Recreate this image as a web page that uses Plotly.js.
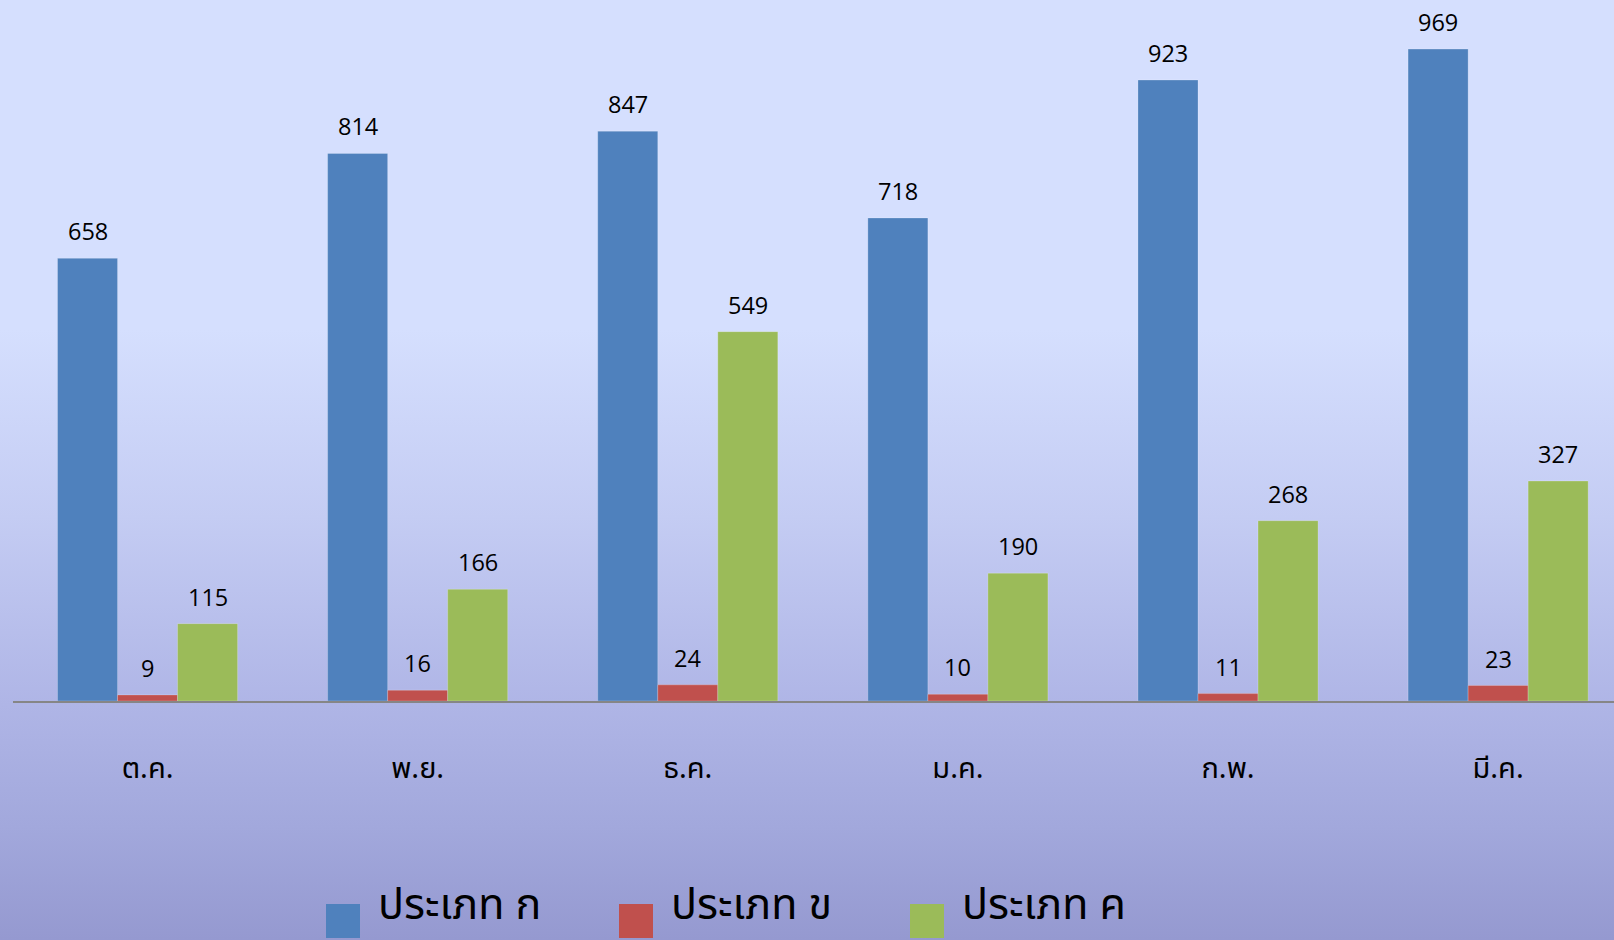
<!DOCTYPE html>
<html>
<head>
<meta charset="utf-8">
<script src="https://cdn.plot.ly/plotly-3.0.1.min.js"></script>
<style>
  html, body { margin: 0; padding: 0; width: 1614px; height: 940px; overflow: hidden; }
  body { background: linear-gradient(to bottom, #d5dffe 0%, #d5dffe 35%, #c4ccf3 55%, #afb5e6 75%, #a2a8dc 88%, #9599d0 100%); }
  #chart { width: 1614px; height: 940px; }
</style>
</head>
<body>
<div id="chart"></div>
<script>
const categories = ['ต.ค.', 'พ.ย.', 'ธ.ค.', 'ม.ค.', 'ก.พ.', 'มี.ค.'];
const seriesNames = ['ประเภท ก', 'ประเภท ข', 'ประเภท ค'];
const typeA = [658, 814, 847, 718, 923, 969];
const typeB = [9, 16, 24, 10, 11, 23];
const typeC = [115, 166, 549, 190, 268, 327];
const seriesValues = [typeA, typeB, typeC];
const seriesColors = ['#4f81bd', '#c0504d', '#9bbb59'];

const W = 1614, H = 940;
const numFont = "'Open Sans', 'Noto Sans', sans-serif";
const thaiFont = "'Noto Sans Thai', 'Noto Sans Thai Looped', Tahoma, 'Noto Sans', sans-serif";

const traces = seriesValues.map((vals, i) => ({
  type: 'bar',
  name: seriesNames[i],
  x: categories,
  y: vals,
  marker: { color: seriesColors[i], line: { color: 'rgba(255,255,255,0.22)', width: 1 } },
  hoverinfo: 'x+y+name',
  showlegend: false
}));

// value labels above bars
const barW = (1 - 1/3) / 3; // in category units
const annotations = [];
seriesValues.forEach((vals, i) => {
  vals.forEach((v, j) => {
    annotations.push({
      xref: 'x', yref: 'y',
      x: j + (i - 1) * barW, y: v,
      text: String(v),
      showarrow: false,
      yanchor: 'bottom',
      yshift: 9,
      font: { family: numFont, size: 23.5, color: '#000000' }
    });
  });
});

// custom legend (big squares, like the reference)
const shapes = [];
const legendX = [326, 619, 910];
seriesNames.forEach((name, i) => {
  const x0 = legendX[i];
  shapes.push({
    type: 'rect', xref: 'paper', yref: 'paper',
    x0: x0 / W, x1: (x0 + 34) / W,
    y0: 1 - 938 / H, y1: 1 - 904 / H,
    fillcolor: seriesColors[i], line: { width: 0 }
  });
  annotations.push({
    xref: 'paper', yref: 'paper',
    x: (x0 + 50) / W, y: 0,
    xanchor: 'left', yanchor: 'bottom',
    text: name, showarrow: false,
    font: { family: thaiFont, size: 43, color: '#000000' }
  });
});

const layout = {
  width: W, height: H,
  margin: { l: 0, r: 0, t: 0, b: 0, pad: 0 },
  paper_bgcolor: 'rgba(0,0,0,0)',
  plot_bgcolor: 'rgba(0,0,0,0)',
  barmode: 'group',
  bargap: 1/3,
  bargroupgap: 0,
  showlegend: false,
  xaxis: {
    type: 'category',
    domain: [12.5 / W, 1],
    range: [-0.5, 5.429],
    showline: true, linecolor: '#868686', linewidth: 2,
    showgrid: false, zeroline: false,
    ticks: '',
    ticklabelstandoff: 40,
    tickfont: { family: thaiFont, size: 29, color: '#000000' },
    fixedrange: true
  },
  yaxis: {
    domain: [1 - 701 / H, 1],
    range: [0, 1042],
    visible: false,
    fixedrange: true
  },
  annotations: annotations,
  shapes: shapes
};

Plotly.newPlot('chart', traces, layout, { displayModeBar: false, staticPlot: false });
</script>
</body>
</html>
